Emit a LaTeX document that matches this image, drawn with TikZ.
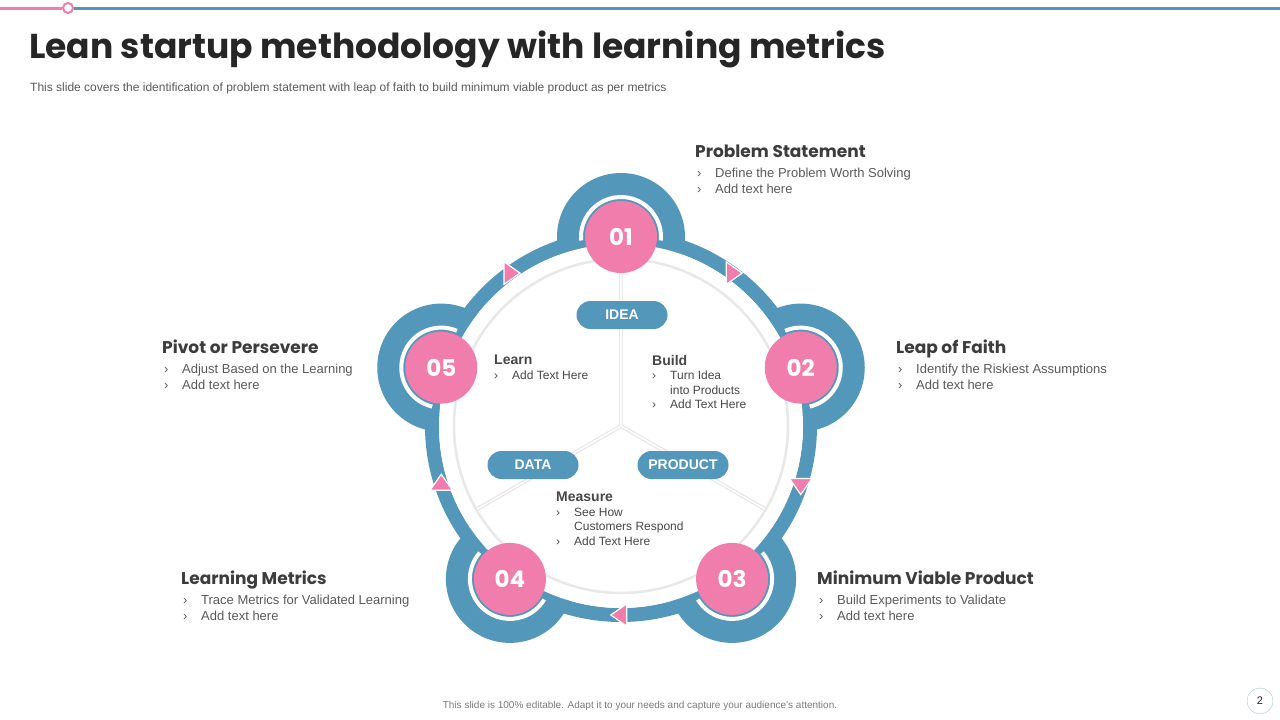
\documentclass[tikz,border=0pt]{standalone}
\usepackage{fontspec}
\setmainfont{Liberation Sans}
\newfontfamily\headfont{Poppins}
\usetikzlibrary{positioning,shapes.geometric}
\definecolor{Steel}{HTML}{5397BB}
\definecolor{Rose}{HTML}{F07DAC}
\definecolor{Ink}{HTML}{262626}
\definecolor{Slate}{HTML}{595959}
\definecolor{Haze}{HTML}{E8E8E8}
\newcommand{\blt}[1]{\makebox[18pt][l]{›}#1}

\begin{document}
\begin{tikzpicture}[x=1pt,y=1pt,
    numc/.style={circle,fill=Rose,minimum size=72,inner sep=0,text=white,
      font=\headfont\bfseries\fontsize{23}{23}\selectfont},
    tip/.style={isosceles triangle,isosceles triangle apex angle=70,fill=Rose,draw=white,
      line width=1.2,inner sep=0,minimum height=16,minimum width=19},
    pill/.style={fill=Steel,rounded corners=14,minimum width=91,minimum height=28,inner sep=0,
      text=white,font=\bfseries\fontsize{14}{14}\selectfont},
    head/.style={anchor=base west,inner sep=0,text=Ink!90,font=\headfont\bfseries\fontsize{17}{17}\selectfont},
    bul/.style={align=left,inner sep=0,text=Slate,font=\fontsize{13}{16}\selectfont},
    inb/.style={anchor=north west,align=left,inner sep=0,text=Ink!85,font=\fontsize{12}{14.5}\selectfont}]
    \useasboundingbox (0,0) rectangle (1280,-720);
    \node[circle,draw=Rose,fill=white,line width=2,minimum size=10,inner sep=0] (dot) at (68,-8) {};
    \draw[Rose,line width=3] (0,-8) -- (dot.west);
    \draw[Steel,line width=3] (dot.east) -- (1280,-8);
    \node[anchor=west,inner sep=0,text=Ink,font=\headfont\bfseries\fontsize{34.5}{34.5}\selectfont] (title) at (29,-49)
      {Lean startup methodology with learning metrics};
    \node[anchor=west,inner sep=0,text=Slate,font=\fontsize{12}{12}\selectfont] (sub) at (30,-88)
      {This slide covers the identification of problem statement with leap of faith to build minimum viable product as per metrics};

    \coordinate (c) at (621,-426);
    \foreach \n/\a in {01/90,02/18,03/-54,04/-126,05/162}
      \fill[Steel] ([shift={(\a:189)}]c) circle (64);
    \draw[Steel,line width=14] (c) circle (189);
    \fill[white] (c) circle (182);
    \draw[Haze,line width=2.5,fill=white] (c) circle (167);
    \foreach \a in {90,210,330}{
      \draw[Haze,line width=4] (c) -- ++(\a:166);
      \draw[white,line width=1.4] (c) -- ++(\a:166);
    }
    \foreach \n/\a [evaluate=\a as \s using \a-95, evaluate=\a as \e using \a+95] in {01/90,02/18,03/-54,04/-126,05/162}{
      \node[numc] (n\n) at ([shift={(\a:189)}]c) {\n};
      \draw[white,line width=4] (n\n.center) ++(\s:40) arc[start angle=\s,end angle=\e,radius=40];
    }
    \foreach \i/\a [evaluate=\a as \r using \a-90] in {1/54,2/-18,3/-90,4/-162,5/126}
      \node[tip,shape border rotate=\r] (t\i) at ([shift={(\a:189)}]c) {};

    \node[pill] (idea) at (622,-315) {IDEA};
    \node[pill] (data) at (533,-465) {DATA};
    \node[pill] (product) at (683,-465) {PRODUCT};

    \node[inb] (learn) at (494,-355) {{\bfseries\fontsize{14}{14.5}\selectfont Learn}\\\blt{Add Text Here}};
    \node[inb] (build) at (652,-355) {{\bfseries\fontsize{14}{14.5}\selectfont Build}\\\blt{Turn Idea}\\\hspace*{18pt}into Products\\\blt{Add Text Here}};
    \node[inb] (measure) at (556,-492) {{\bfseries\fontsize{14}{14.5}\selectfont Measure}\\\blt{See How}\\\hspace*{18pt}Customers Respond\\\blt{Add Text Here}};

    \foreach \name/\x/\y/\head/\one in {ps/695/157/Problem Statement/Define the Problem Worth Solving,
        lf/896/353/Leap of Faith/Identify the Riskiest Assumptions,
        mv/817/584/Minimum Viable Product/Build Experiments to Validate,
        lm/181/584/Learning Metrics/Trace Metrics for Validated Learning,
        pp/162/353/Pivot or Persevere/Adjust Based on the Learning}{
      \node[head] (\name) at (\x,-\y) {\head};
      \node[bul,below right=11pt and 2pt of \name.base west] (\name-b) {\blt{\one}\\\blt{Add text here}};
    }

    \node[text=Slate!80,inner sep=0,font=\fontsize{10}{10}\selectfont] (foot) at (640,-706)
      {This slide is 100\% editable. Adapt it to your needs and capture your audience's attention.};
    \node[circle,draw=Steel!55,minimum size=26,inner sep=0,text=Ink,font=\fontsize{11}{11}\selectfont] (page) at (1260,-701) {2};
  \end{tikzpicture}
\end{document}
